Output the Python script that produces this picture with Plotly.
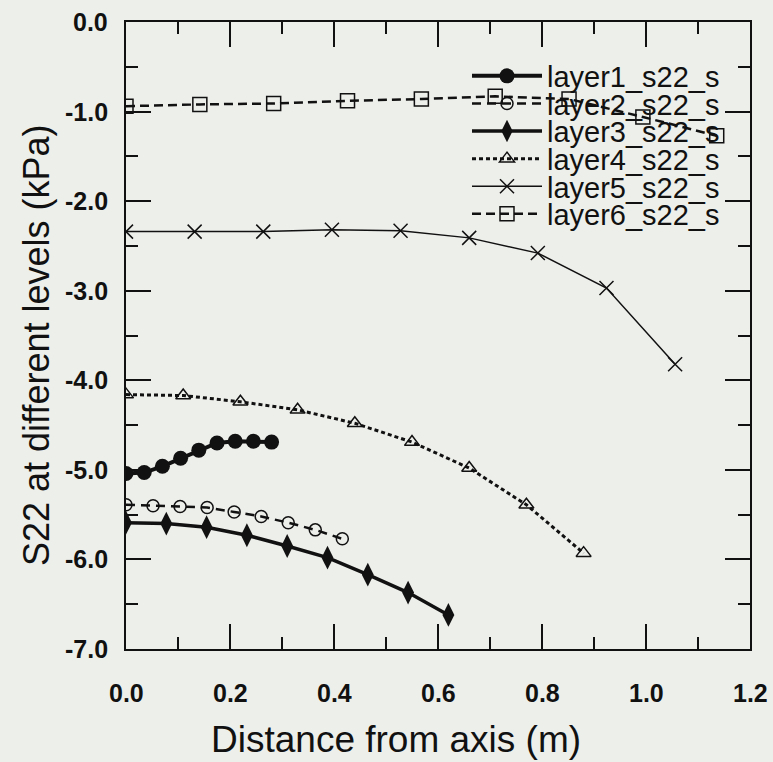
import plotly.graph_objects as go

# ---- data ----
layer1_x = [0, 0.035, 0.07, 0.105, 0.14, 0.175, 0.21, 0.245, 0.28]
layer1_y = [-5.04, -5.03, -4.96, -4.87, -4.78, -4.70, -4.68, -4.68, -4.69]
layer2_x = [0, 0.052, 0.104, 0.156, 0.208, 0.26, 0.312, 0.364, 0.416]
layer2_y = [-5.39, -5.40, -5.41, -5.42, -5.47, -5.52, -5.59, -5.67, -5.77]
layer3_x = [0, 0.0775, 0.155, 0.2325, 0.31, 0.3875, 0.465, 0.5425, 0.62]
layer3_y = [-5.59, -5.60, -5.64, -5.73, -5.85, -5.98, -6.17, -6.37, -6.62]
layer4_x = [0, 0.11, 0.22, 0.33, 0.44, 0.55, 0.66, 0.77, 0.88]
layer4_y = [-4.16, -4.17, -4.24, -4.33, -4.48, -4.69, -4.98, -5.39, -5.93]
layer5_x = [0, 0.132, 0.264, 0.396, 0.528, 0.66, 0.792, 0.924, 1.056]
layer5_y = [-2.34, -2.34, -2.34, -2.32, -2.33, -2.41, -2.58, -2.97, -3.82]
layer6_x = [0, 0.142, 0.284, 0.426, 0.568, 0.71, 0.852, 0.994, 1.136]
layer6_y = [-0.94, -0.92, -0.91, -0.88, -0.86, -0.83, -0.86, -1.06, -1.27]

names = ["layer1_s22_s", "layer2_s22_s", "layer3_s22_s",
         "layer4_s22_s", "layer5_s22_s", "layer6_s22_s"]

x_tickvals = [0.0, 0.2, 0.4, 0.6, 0.8, 1.0, 1.2]
x_ticktext = ["0.0", "0.2", "0.4", "0.6", "0.8", "1.0", "1.2"]
x_minorvals = [0.1, 0.3, 0.5, 0.7, 0.9, 1.1]
y_tickvals = [0, -1, -2, -3, -4, -5, -6, -7]
y_ticktext = ["0.0", "-1.0", "-2.0", "-3.0", "-4.0", "-5.0", "-6.0", "-7.0"]
y_minorvals = [-0.5, -1.5, -2.5, -3.5, -4.5, -5.5, -6.5]

x_title = "Distance from axis (m)"
y_title = "S22 at different levels (kPa)"

BG = "#edefeb"
INK = "#111111"
FONT = "Liberation Sans, Arial, sans-serif"

# plot area in pixels
W, H = 773, 762
L, R, T, B = 126, 750, 22, 649

def px_x(px):
    return (px - L) / (R - L)

def px_y(py):
    return 1 - (py - T) / (B - T)

styles = [
    dict(line=dict(color=INK, width=4), marker=dict(symbol="circle", size=15, color=INK)),
    dict(line=dict(color=INK, width=2.5, dash="9px,6px"),
         marker=dict(symbol="circle-open", size=12, color=INK, line=dict(width=1.5))),
    dict(line=dict(color=INK, width=3.5), marker=dict(symbol="diamond-tall", size=17, color=INK)),
    dict(line=dict(color=INK, width=3, dash="4px,3px"),
         marker=dict(symbol="triangle-up-open", size=13, color=INK, line=dict(width=1.5))),
    dict(line=dict(color=INK, width=1.5),
         marker=dict(symbol="x-thin-open", size=14, color=INK, line=dict(width=1.5, color=INK))),
    dict(line=dict(color=INK, width=2.5, dash="9px,5px"),
         marker=dict(symbol="square-open", size=14, color=INK, line=dict(width=1.5))),
]

xs = [layer1_x, layer2_x, layer3_x, layer4_x, layer5_x, layer6_x]
ys = [layer1_y, layer2_y, layer3_y, layer4_y, layer5_y, layer6_y]
legend_ids = ["legend", "legend2", "legend3", "legend4", "legend5", "legend6"]

fig = go.Figure()
for i in range(6):
    fig.add_trace(go.Scatter(
        x=xs[i], y=ys[i], name=names[i], mode="lines+markers",
        legend=legend_ids[i], **styles[i]))

layout_legends = {}
row0, row_gap = 76, 27.6
for i, lid in enumerate(legend_ids):
    layout_legends[lid] = dict(
        x=px_x(467), y=px_y(row0 + row_gap * i), xanchor="left", yanchor="middle",
        bgcolor="rgba(0,0,0,0)", borderwidth=0,
        font=dict(family=FONT, size=29, color=INK), itemwidth=70)

tick_axis = dict(
    showline=True, linecolor=INK, linewidth=2, mirror="allticks",
    ticks="inside", ticklen=25, tickwidth=2, tickcolor=INK,
    showgrid=False, zeroline=False, showticklabels=False,
)
label_font = dict(family=FONT, size=25, color=INK, weight="bold")

# tick labels placed at the axis tick values
annotations = []
for v, t in zip(x_tickvals, x_ticktext):
    annotations.append(dict(text=t, x=v, xref="x", y=0, yref="paper",
                            xanchor="center", yanchor="top", yshift=-28,
                            showarrow=False, font=label_font))
for v, t in zip(y_tickvals, y_ticktext):
    annotations.append(dict(text=t, x=0, xref="paper", y=v, yref="y",
                            xanchor="right", yanchor="middle", xshift=-16,
                            showarrow=False, font=label_font))
annotations += [
    dict(text=x_title, xref="paper", yref="paper", x=px_x(396), y=px_y(740),
         xanchor="center", yanchor="middle", showarrow=False,
         font=dict(family=FONT, size=37, color=INK)),
    dict(text=y_title, xref="paper", yref="paper", x=px_x(36), y=px_y(345),
         xanchor="center", yanchor="middle", showarrow=False, textangle=-90,
         font=dict(family=FONT, size=36, color=INK)),
]

fig.update_layout(
    width=W, height=H,
    margin=dict(l=L, r=W - R, t=T, b=H - B),
    paper_bgcolor=BG, plot_bgcolor=BG,
    showlegend=True,
    xaxis=dict(range=[0, 1.2], tickmode="array", tickvals=x_tickvals,
               minor=dict(tickmode="array", tickvals=x_minorvals, ticklen=12,
                          tickwidth=2, tickcolor=INK, ticks="inside"),
               **tick_axis),
    yaxis=dict(range=[-7, 0], tickmode="array", tickvals=y_tickvals,
               minor=dict(tickmode="array", tickvals=y_minorvals, ticklen=12,
                          tickwidth=2, tickcolor=INK, ticks="inside"),
               **tick_axis),
    annotations=annotations,
    **layout_legends,
)

fig.write_html("out.html")
